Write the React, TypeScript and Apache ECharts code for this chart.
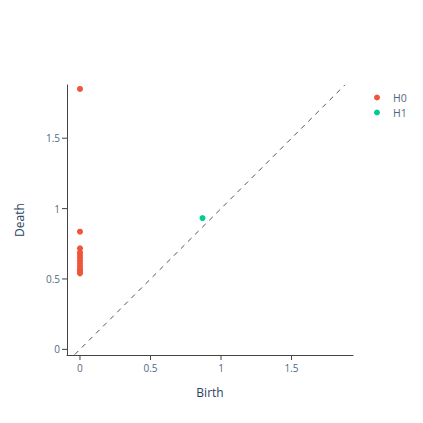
import React, { useEffect, useRef } from "react";
import * as echarts from "echarts";

const h0Birth = [0, 0, 0, 0, 0, 0, 0, 0, 0, 0, 0, 0];
const h0Death = [1.85, 0.836, 0.718, 0.69, 0.67, 0.65, 0.63, 0.61, 0.59, 0.57, 0.555, 0.54];
const h1Birth = [0.869];
const h1Death = [0.933];
const diagonal = [-0.037, 1.88];
const tickValues = [0, 0.5, 1, 1.5];
const tickLabels = ["0", "0.5", "1", "1.5"];

const xMin = -0.092;
const xMax = 1.936;
const yMin = -0.04;
const yMax = 1.878;

const textColor = "#2a3f5f";
const tickColor = "#506784";
const font = "Open Sans, Verdana, Arial, sans-serif";

export default function App() {
  const ref = useRef<HTMLDivElement>(null);
  useEffect(() => {
    const chart = echarts.init(ref.current!, null, { renderer: "svg" });
    const axisCommon = (name: string, margin: number) => ({
      type: "value" as const,
      name,
      nameLocation: "middle" as const,
      nameTextStyle: { color: textColor, fontSize: 12, fontFamily: font },
      splitLine: { show: false },
      axisLine: { show: true, onZero: false, lineStyle: { color: "#444", width: 1 } },
      axisTick: { show: false },
      axisLabel: {
        customValues: tickValues,
        color: tickColor,
        fontSize: 10,
        fontFamily: font,
        margin,
        formatter: (v: number) => {
          const i = tickValues.findIndex((t) => Math.abs(t - v) < 1e-9);
          return i >= 0 ? tickLabels[i] : "";
        },
      },
    });
    const tickData = [
      ...tickValues.map((v) => [v, yMin, 0]),
      ...tickValues.map((v) => [xMin, v, 1]),
    ];
    chart.setOption({
      animation: false,
      backgroundColor: "#fff",
      grid: { left: 67, top: 85, right: 70, bottom: 68 },
      legend: {
        data: ["H0", "H1"],
        orient: "vertical",
        left: 369,
        top: 87,
        itemWidth: 6,
        itemHeight: 6,
        itemGap: 4,
        icon: "circle",
        textStyle: { color: tickColor, fontSize: 10.5, fontFamily: font, padding: [0, 0, 0, 8] },
      },
      xAxis: { ...axisCommon("Birth", 8), min: xMin, max: xMax, nameGap: 31 },
      yAxis: { ...axisCommon("Death", 7), min: yMin, max: yMax, nameGap: 42 },
      series: [
        {
          name: "ticks",
          type: "custom",
          silent: true,
          clip: false,
          data: tickData,
          renderItem: (_p: any, api: any) => {
            const pt = api.coord([api.value(0), api.value(1)]);
            const isY = api.value(2) === 1;
            const shape = isY
              ? { x1: pt[0] - 5, y1: pt[1], x2: pt[0], y2: pt[1] }
              : { x1: pt[0], y1: pt[1], x2: pt[0], y2: pt[1] + 5 };
            return { type: "line", shape, style: { stroke: "#444", lineWidth: 1 } };
          },
        },
        {
          name: "diag",
          type: "line",
          data: diagonal.map((v) => [v, v]),
          symbol: "none",
          lineStyle: { color: "#555", width: 1, type: [5, 5] },
          silent: true,
        },
        {
          name: "H0",
          type: "scatter",
          data: h0Birth.map((b, i) => [b, h0Death[i]]),
          symbolSize: 6,
          itemStyle: { color: "#EF553B", opacity: 1 },
        },
        {
          name: "H1",
          type: "scatter",
          data: h1Birth.map((b, i) => [b, h1Death[i]]),
          symbolSize: 6,
          itemStyle: { color: "#00CC96", opacity: 1 },
        },
      ],
    });
    return () => chart.dispose();
  }, []);
  return <div ref={ref} style={{ width: 423, height: 423, position: "absolute", left: 0, top: 0 }} />;
}
